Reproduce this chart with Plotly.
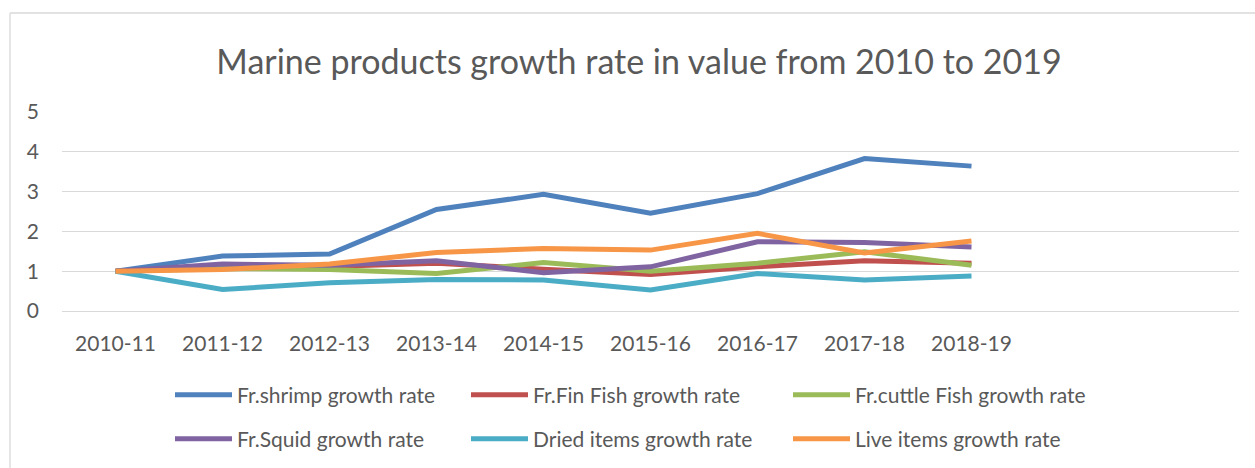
import plotly.graph_objects as go

categories = ["2010-11", "2011-12", "2012-13", "2013-14", "2014-15",
              "2015-16", "2016-17", "2017-18", "2018-19"]
shrimp = [1.00, 1.38, 1.43, 2.55, 2.93, 2.46, 2.95, 3.83, 3.64]
finfish = [1.00, 1.10, 1.12, 1.20, 1.05, 0.92, 1.11, 1.26, 1.20]
cuttle = [1.00, 1.07, 1.04, 0.94, 1.22, 1.00, 1.20, 1.49, 1.15]
squid = [1.00, 1.18, 1.15, 1.26, 0.96, 1.11, 1.74, 1.72, 1.61]
dried = [1.00, 0.54, 0.71, 0.79, 0.78, 0.53, 0.94, 0.78, 0.88]
live = [1.00, 1.04, 1.18, 1.47, 1.57, 1.53, 1.95, 1.46, 1.76]

names = ["Fr.shrimp growth rate", "Fr.Fin Fish growth rate", "Fr.cuttle Fish growth rate",
         "Fr.Squid growth rate", "Dried items growth rate", "Live items growth rate"]
series = [shrimp, finfish, cuttle, squid, dried, live]
colors = ["#4F81BD", "#C0504D", "#9BBB59", "#8064A2", "#4BACC6", "#F79646"]

W, H = 1255, 468
L, R, T, B = 62, 16, 112, 157
pw, ph = W - L - R, H - T - B
FONT = "Lato"
TXT = "#595959"

fig = go.Figure()
legend_pos = [(170, 395), (466, 395), (788, 395), (170, 439), (466, 439), (788, 439)]
for i, (nm, ys, c) in enumerate(zip(names, series, colors)):
    lg = "legend" if i == 0 else f"legend{i+1}"
    fig.add_trace(go.Scatter(x=categories, y=ys, name=nm, mode="lines",
                             line=dict(color=c, width=5), legend=lg))

layout_legends = {}
for i, (px, py) in enumerate(legend_pos):
    key = "legend" if i == 0 else f"legend{i+1}"
    layout_legends[key] = dict(
        x=px / W, y=1 - py / H, xanchor="left", yanchor="middle",
        xref="container", yref="container", bgcolor="rgba(0,0,0,0)", borderwidth=0,
        font=dict(family=FONT, size=21, color=TXT), itemwidth=57,
    )

fig.update_layout(
    width=W, height=H,
    margin=dict(l=L, r=R, t=T, b=B, autoexpand=False),
    paper_bgcolor="white", plot_bgcolor="white",
    title=dict(text="Marine products growth rate in value from 2010 to 2019",
               x=(639 - L) / pw, xref="paper", xanchor="center",
               y=1 - 62 / H, yref="container", yanchor="middle",
               font=dict(family=FONT, size=34, color=TXT)),
    xaxis=dict(type="category", categoryarray=categories, range=[-0.5, 10.5],
               showgrid=False, zeroline=False, showline=False, ticks="",
               tickfont=dict(family=FONT, size=21, color=TXT), ticklabelstandoff=18),
    yaxis=dict(range=[0, 5], dtick=1, showgrid=True, gridcolor="#D9D9D9", gridwidth=1.3,
               zeroline=True, zerolinecolor="#D9D9D9", zerolinewidth=1.3,
               showline=False, ticks="",
               tickfont=dict(family=FONT, size=21, color=TXT), ticklabelstandoff=22),
    showlegend=True,
    shapes=[
        dict(type="line", xref="paper", yref="paper",
             x0=(10 - L) / pw, x1=(10 - L) / pw, y0=(T + ph - 13) / ph, y1=(T + ph - 470) / ph,
             line=dict(color="#D9D9D9", width=1.3)),
        dict(type="line", xref="paper", yref="paper",
             x0=(10 - L) / pw, x1=(1260 - L) / pw, y0=(T + ph - 13) / ph, y1=(T + ph - 13) / ph,
             line=dict(color="#D9D9D9", width=1.3)),
    ],
    **layout_legends,
)

fig.write_html("out.html")
